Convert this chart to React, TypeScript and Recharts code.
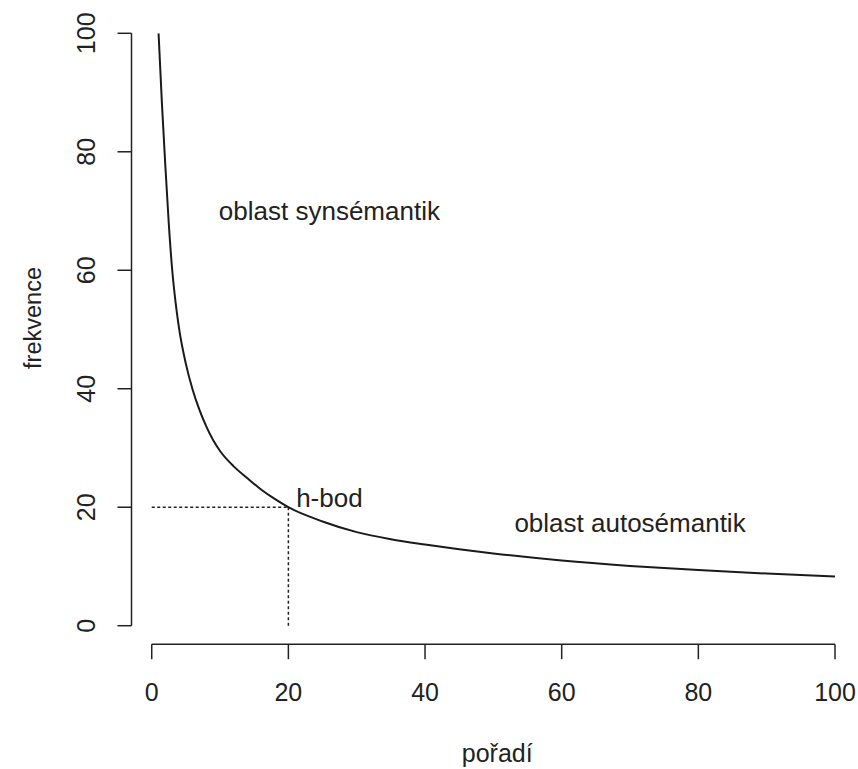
import React from "react";
import { LineChart, Line, XAxis, YAxis, ReferenceLine, ReferenceDot, Label } from "recharts";

// pořadí (rank) and frekvence
const ranks = [1, 1.5, 2, 2.5, 3, 3.5, 4, 5, 6, 7, 8, 9, 10, 12, 14, 16, 18, 20, 25, 30, 35, 40, 45, 50, 60, 70, 80, 90, 100];
const frequencies = [100, 88, 77.5, 67.8, 60, 54.5, 50.2, 44.2, 39.8, 36.4, 33.6, 31.3, 29.5, 26.9, 24.9, 23, 21.4, 20, 17.6, 15.8, 14.6, 13.7, 12.9, 12.2, 11, 10.1, 9.4, 8.8, 8.3];

const xTicks = [0, 20, 40, 60, 80, 100];
const yTicks = [0, 20, 40, 60, 80, 100];

// h-bod (h-point)
const hPoint = { rank: 20, freq: 20 };

const annotations = [
    { x: 26, y: 70, text: "oblast synsémantik" },
    { x: 26, y: 21.6, text: "h-bod" },
    { x: 70, y: 17.3, text: "oblast autosémantik" },
];

const xDomain: [number, number] = [-2.96, 100];
const yDomain: [number, number] = [-3.12, 100];

const data = ranks.map((r, i) => ({ rank: r, freq: frequencies[i] }));

const FONT = "'Liberation Sans', Arial, sans-serif";
const INK = "#222";
const FS = 25;

const XTick = ({ x, y, payload }: any) => (
    <text x={x} y={y + 41.5} textAnchor="middle" fontSize={FS} fill={INK} fontFamily={FONT}>
        {payload.value}
    </text>
);

const YTick = ({ x, y, payload }: any) => {
    const tx = x - 22.5;
    return (
        <text x={tx} y={y} transform={`rotate(-90, ${tx}, ${y})`} textAnchor="middle" fontSize={FS} fill={INK} fontFamily={FONT}>
            {payload.value}
        </text>
    );
};

const XTitle = ({ viewBox }: any) => (
    <text x={viewBox.x + viewBox.width / 2 + 14} y={viewBox.y + viewBox.height - 7} textAnchor="middle" fontSize={FS} fill={INK} fontFamily={FONT}>
        pořadí
    </text>
);

const YTitle = ({ viewBox }: any) => {
    const tx = viewBox.x + 41;
    const ty = 318;
    return (
        <text x={tx} y={ty} transform={`rotate(-90, ${tx}, ${ty})`} textAnchor="middle" fontSize={23.5} fill={INK} fontFamily={FONT}>
            frekvence
        </text>
    );
};

const App: React.FC = () => {
    return (
        <div style={{ position: "absolute", left: 0, top: 0, width: 858, height: 769, background: "#fff" }}>
            <LineChart
                width={858}
                height={769}
                data={data}
                margin={{ top: 33.3, right: 23, left: 0, bottom: 0 }}
            >
                <XAxis
                    dataKey="rank"
                    type="number"
                    domain={xDomain}
                    allowDataOverflow
                    ticks={xTicks}
                    interval={0}
                    axisLine={false}
                    tickLine={{ stroke: INK, strokeWidth: 1.5 }}
                    tickSize={15}
                    tickMargin={0}
                    tick={<XTick />}
                    height={124.8}
                >
                    <Label content={<XTitle />} />
                </XAxis>
                <YAxis
                    type="number"
                    domain={yDomain}
                    allowDataOverflow
                    ticks={yTicks}
                    interval={0}
                    axisLine={false}
                    tickLine={{ stroke: INK, strokeWidth: 1.5 }}
                    tickSize={14}
                    tickMargin={0}
                    tick={<YTick />}
                    width={131.5}
                >
                    <Label content={<YTitle />} />
                </YAxis>
                {/* detached R-style axis lines */}
                <ReferenceLine
                    segment={[{ x: xDomain[0], y: 0 }, { x: xDomain[0], y: 100 }]}
                    stroke={INK}
                    strokeWidth={1.5}
                />
                <ReferenceLine
                    segment={[{ x: 0, y: yDomain[0] }, { x: 100, y: yDomain[0] }]}
                    stroke={INK}
                    strokeWidth={1.5}
                />
                <ReferenceLine
                    segment={[{ x: 0, y: hPoint.freq }, { x: hPoint.rank, y: hPoint.freq }]}
                    stroke={INK}
                    strokeWidth={1.5}
                    strokeDasharray="3 2.5"
                />
                <ReferenceLine
                    segment={[{ x: hPoint.rank, y: 0 }, { x: hPoint.rank, y: hPoint.freq }]}
                    stroke={INK}
                    strokeWidth={1.5}
                    strokeDasharray="3 2.5"
                />
                <Line
                    type="monotone"
                    dataKey="freq"
                    stroke="#1a1a1a"
                    strokeWidth={2}
                    dot={false}
                    activeDot={false}
                    isAnimationActive={false}
                />
                {annotations.map((a) => (
                    <ReferenceDot
                        key={a.text}
                        x={a.x}
                        y={a.y}
                        r={0}
                        fill="none"
                        stroke="none"
                        label={{ value: a.text, position: "center", fontSize: 26, fill: INK, fontFamily: FONT }}
                    />
                ))}
            </LineChart>
        </div>
    );
};

export default App;
